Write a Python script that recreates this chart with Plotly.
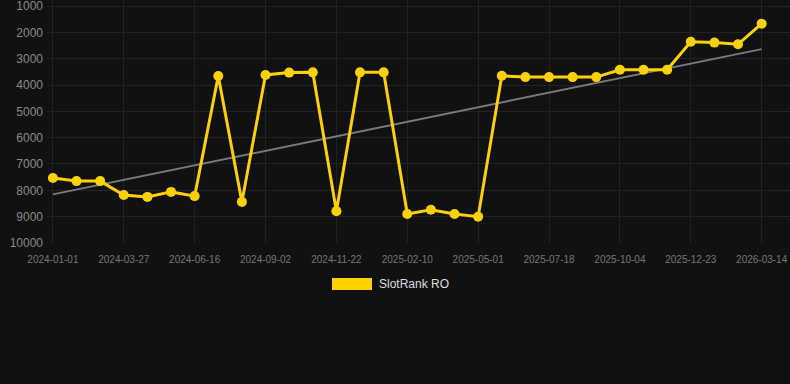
import numpy as np
import plotly.graph_objects as go

dates = [
    "2024-01-01", "2024-01-30", "2024-02-28", "2024-03-27", "2024-04-23", "2024-05-20",
    "2024-06-16", "2024-07-12", "2024-08-07", "2024-09-02", "2024-09-29", "2024-10-26",
    "2024-11-22", "2024-12-18", "2025-01-14", "2025-02-10", "2025-03-08", "2025-04-04",
    "2025-05-01", "2025-05-27", "2025-06-22", "2025-07-18", "2025-08-13", "2025-09-08",
    "2025-10-04", "2025-10-30", "2025-11-26", "2025-12-23", "2026-01-18", "2026-02-16",
    "2026-03-14",
]
ranks = [
    7530, 7650, 7650, 8180, 8250, 8060, 8220, 3660, 8440, 3620, 3530, 3520,
    8790, 3520, 3520, 8900, 8740, 8900, 9000, 3650, 3700, 3700, 3700, 3700,
    3420, 3420, 3420, 2355, 2390, 2455, 1670,
]
y_ticks = [1000, 2000, 3000, 4000, 5000, 6000, 7000, 8000, 9000, 10000]
series_name = "SlotRank RO"

idx = np.arange(len(dates))
slope, intercept = np.polyfit(idx, ranks, 1)
trend = slope * idx + intercept

gold = "#FFD100"
fig = go.Figure()
fig.add_trace(go.Scatter(
    x=idx, y=trend, mode="lines", line=dict(color="#7a7a7a", width=2),
    showlegend=False, hoverinfo="skip",
))
fig.add_trace(go.Scatter(
    x=idx, y=ranks, mode="lines+markers", name=series_name,
    line=dict(color=gold, width=3),
    marker=dict(color=gold, size=10),
    showlegend=False,
))

# plot area spans y = 0 .. 243 px; 1000 sits at y = 6 px
plot_h = 243
top_val = 1000 - 6 * 9000 / 237
tick_idx = list(range(0, len(dates), 3))
fig.update_layout(
    width=790, height=384,
    margin=dict(l=47, r=0, t=0, b=141),
    paper_bgcolor="#111111", plot_bgcolor="#111111",
    font=dict(family="Liberation Sans, Arial, sans-serif"),
    xaxis=dict(
        range=[-0.25, 31.2],
        tickvals=tick_idx, ticktext=[dates[i] for i in tick_idx],
        showgrid=True, gridcolor="#222222", gridwidth=1,
        zeroline=False, showline=False,
        tickfont=dict(size=10, color="#777777"),
        ticks="", ticklabelstandoff=9, ticklabeloverflow="allow",
    ),
    yaxis=dict(
        range=[10000.5, top_val],
        tickvals=y_ticks, ticktext=[str(v) for v in y_ticks],
        showgrid=True, gridcolor="#222222", gridwidth=1,
        zeroline=False, showline=False,
        tickfont=dict(size=12, color="#8a8a8a"),
        ticks="", ticklabelstandoff=3, ticklabeloverflow="allow",
    ),
    shapes=[dict(
        type="rect", xref="paper", yref="paper",
        x0=(332 - 47) / 743, x1=(372 - 47) / 743,
        y0=(384 - 290 - 141) / plot_h, y1=(384 - 278 - 141) / plot_h,
        fillcolor=gold, line=dict(width=0),
    )],
    annotations=[dict(
        text=series_name, xref="paper", yref="paper",
        x=(377 - 47) / 743, y=(384 - 284 - 141) / plot_h,
        xanchor="left", yanchor="middle", showarrow=False,
        font=dict(size=12, color="#dddddd"),
    )],
)

fig.write_html("out.html")
